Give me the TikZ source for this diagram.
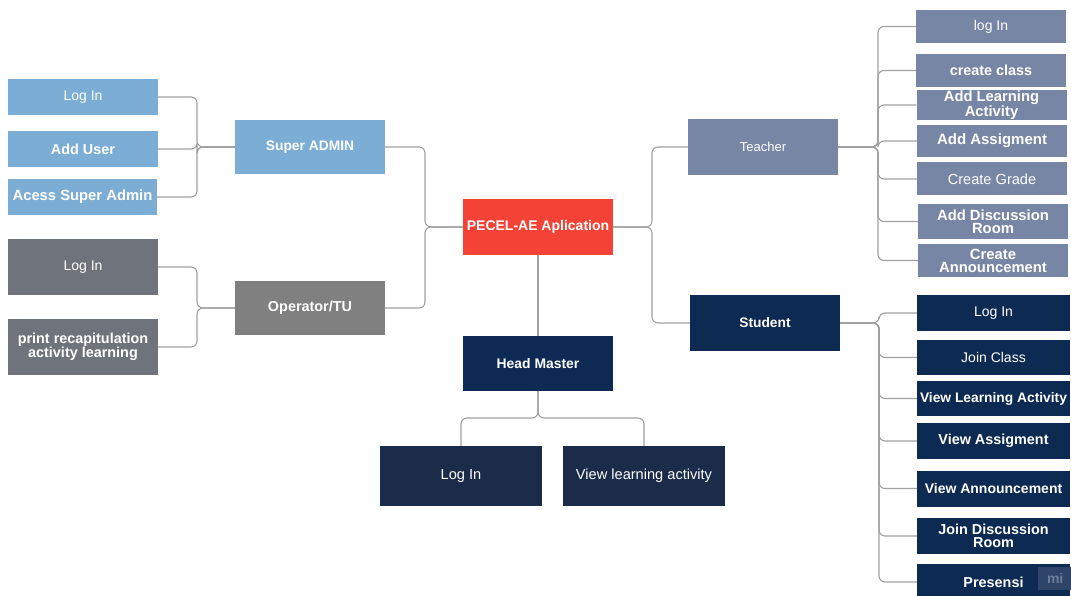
\documentclass[tikz,border=0pt]{standalone}
\usepackage{fontspec}
\setmainfont{Liberation Sans}
\definecolor{csa}{HTML}{7CADD5}
\definecolor{cop1}{HTML}{6F737C}
\definecolor{cop}{HTML}{808080}
\definecolor{cpe}{HTML}{F44336}
\definecolor{chm}{HTML}{0E2A54}
\definecolor{chm1}{HTML}{1B2C4A}
\definecolor{cte}{HTML}{7886A5}
\definecolor{cst}{HTML}{0D2A52}
\definecolor{cline}{HTML}{A0A0A0}
\definecolor{cwm}{HTML}{2E4468}
\definecolor{cwmt}{HTML}{6E7F9C}
\tikzset{
  box/.style={rectangle, inner sep=1pt, align=center, text=white,
    font=\fontsize{14}{13}\selectfont},
  bbox/.style={box, font=\fontsize{14.4}{13}\selectfont\bfseries},
  conn/.style={draw=cline, line width=1.1pt, rounded corners=6pt},
}
\begin{document}
\begin{tikzpicture}[x=1pt,y=-1pt]
\clip (0,0) rectangle (1071,596);
\fill[white] (0,0) rectangle (1071,596);

% Super ADMIN group
\node[box, fill=csa, minimum width=150pt, minimum height=36pt] (sa1) at (83,97) {Log In};
\node[bbox, fill=csa, minimum width=150pt, minimum height=36pt] (sa2) at (83,149) {Add User};
\node[bbox, fill=csa, minimum width=149pt, minimum height=36pt, font=\fontsize{14.8}{13}\selectfont\bfseries] (sa3) at (82.5,197) {Acess Super Admin};
\node[bbox, fill=csa, minimum width=150pt, minimum height=54pt, font=\fontsize{13.8}{13}\selectfont\bfseries] (sa) at (310,147) {Super ADMIN};

% Operator group
\node[box, fill=cop1, minimum width=150pt, minimum height=56pt] (op1) at (83,267) {Log In};
\node[bbox, fill=cop1, minimum width=150pt, minimum height=56pt] (op2) at (83,347) {print recapitulation\\activity learning};
\node[bbox, fill=cop, minimum width=150pt, minimum height=54pt] (op) at (310,308) {Operator/TU};

% Center
\node[bbox, fill=cpe, minimum width=150pt, minimum height=56pt, font=\fontsize{14}{13}\selectfont\bfseries] (pe) at (538,227) {PECEL-AE Aplication};
\node[bbox, fill=chm, minimum width=150pt, minimum height=55pt, font=\fontsize{13.9}{13}\selectfont\bfseries] (hm) at (538,363.5) {Head Master};
\node[box, fill=chm1, minimum width=162pt, minimum height=60pt, font=\fontsize{14.6}{13}\selectfont] (hm1) at (461,476) {Log In};
\node[box, fill=chm1, minimum width=162pt, minimum height=60pt, font=\fontsize{14.6}{13}\selectfont] (hm2) at (644,476) {View learning activity};

% Teacher group
\node[box, fill=cte, minimum width=150pt, minimum height=56pt, font=\fontsize{13}{13}\selectfont] (te) at (763,147) {Teacher};
\node[box, fill=cte, minimum width=150pt, minimum height=33pt] (te1) at (991,26.5) {log In};
\node[bbox, fill=cte, minimum width=150pt, minimum height=33pt] (te2) at (991,70.5) {create class};
\node[bbox, fill=cte, minimum width=150pt, minimum height=29pt, font=\fontsize{14.8}{13}\selectfont\bfseries] (te3) at (991.5,105) {Add Learning\\Activity};
\node[bbox, fill=cte, minimum width=150pt, minimum height=32pt, font=\fontsize{15}{13}\selectfont\bfseries] (te4) at (992,141) {Add Assigment};
\node[box, fill=cte, minimum width=150pt, minimum height=33pt, font=\fontsize{14.6}{13}\selectfont] (te5) at (992,179) {Create Grade};
\node[bbox, fill=cte, minimum width=150pt, minimum height=35pt, font=\fontsize{14.8}{13}\selectfont\bfseries] (te6) at (993,221.5) {Add Discussion\\Room};
\node[bbox, fill=cte, minimum width=150pt, minimum height=33pt, font=\fontsize{14.8}{13}\selectfont\bfseries] (te7) at (993,260.5) {Create\\Announcement};

% Student group
\node[bbox, fill=cst, minimum width=150pt, minimum height=56pt, font=\fontsize{13.8}{13}\selectfont\bfseries] (st) at (765,323) {Student};
\node[box, fill=cst, minimum width=153pt, minimum height=36pt] (st1) at (993.5,313) {Log In};
\node[box, fill=cst, minimum width=153pt, minimum height=35pt] (st2) at (993.5,357.5) {Join Class};
\node[bbox, fill=cst, minimum width=153pt, minimum height=35pt, font=\fontsize{13.8}{13}\selectfont\bfseries] (st3) at (993.5,398.5) {View Learning Activity};
\node[bbox, fill=cst, minimum width=153pt, minimum height=36pt] (st4) at (993.5,441) {View Assigment};
\node[bbox, fill=cst, minimum width=153pt, minimum height=36pt, font=\fontsize{14}{13}\selectfont\bfseries] (st5) at (993.5,488.5) {View Announcement};
\node[bbox, fill=cst, minimum width=153pt, minimum height=36pt] (st6) at (993.5,536) {Join Discussion\\Room};
\node[bbox, fill=cst, minimum width=153pt, minimum height=36pt] (st7) at (993.5,582) {Presensi};

% watermark
\node[rectangle, fill=cwm, minimum width=34pt, minimum height=23pt, inner sep=0pt,
  text=cwmt, font=\fontsize{14}{13}\selectfont\bfseries, anchor=west] (wm) at (1038,578.5) {\hspace*{6pt}mi\hspace*{6pt}};

% junction coordinates
\coordinate (jSA) at (197,147);
\coordinate (jOP) at (197,308);
\coordinate (jL) at (425,227);
\coordinate (jR) at (652,227);
\coordinate (jT) at (878,147);
\coordinate (jS) at (879,323);
\coordinate (jH) at (538,418);

% connectors
\foreach \c in {sa1,sa2,sa3} \draw[conn] (\c.east) -| (jSA) -- (sa.west);
\foreach \c in {op1,op2} \draw[conn] (\c.east) -| (jOP) -- (op.west);
\draw[conn] (sa.east) -| (jL) -- (pe.west);
\draw[conn] (op.east) -| (jL) -- (pe.west);
\draw[conn] (pe.east) -- (jR) |- (te.west);
\draw[conn] (pe.east) -- (jR) |- (st.west);
\draw[conn] (pe.south) -- (hm.north);
\draw[conn] (hm.south) -- (jH) -| (hm1.north);
\draw[conn] (hm.south) -- (jH) -| (hm2.north);
\foreach \c in {te1,te2,te3,te4,te5,te6,te7} \draw[conn] (te.east) -- (jT) |- (\c.west);
\foreach \c in {st1,st2,st3,st4,st5,st6,st7} \draw[conn] (st.east) -- (jS) |- (\c.west);
\end{tikzpicture}
\end{document}
